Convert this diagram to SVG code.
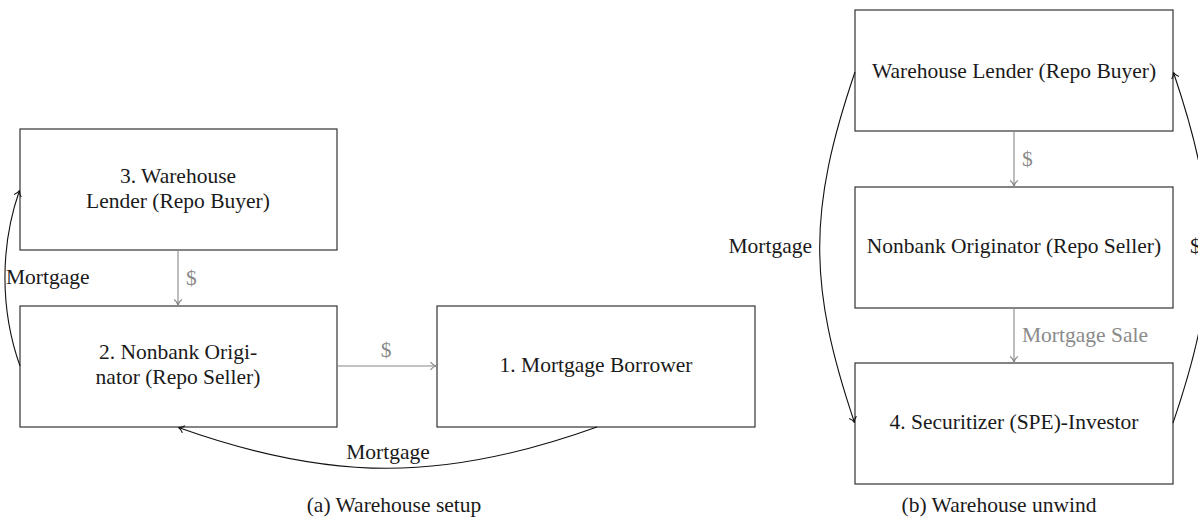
<svg xmlns="http://www.w3.org/2000/svg" width="1198" height="522" viewBox="0 0 1198 522" font-family="'Liberation Serif', 'DejaVu Serif', serif">
<style>
  text { font-family: "Liberation Serif", "DejaVu Serif", serif; font-size: 21.5px; fill: #1a1a1a; }
  .c { text-anchor: middle; }
  .g { fill: #8a8a8a; }
  .box { fill: #ffffff; stroke: #333333; stroke-width: 1.2; }
  .k { fill: none; stroke: #111111; stroke-width: 1.1; }
  .gr { fill: none; stroke: #888888; stroke-width: 1.1; }
</style>
<defs>
  <marker id="ak" markerUnits="userSpaceOnUse" markerWidth="12" markerHeight="12" viewBox="-8 -6 10 12" refX="0" refY="0" orient="auto">
    <path d="M-5.5,-3.8 C-3.5,-1.2 -1.2,-0.3 0,0 C-1.2,0.3 -3.5,1.2 -5.5,3.8" fill="none" stroke="#111111" stroke-width="1.1"/>
  </marker>
  <marker id="ag" markerUnits="userSpaceOnUse" markerWidth="12" markerHeight="12" viewBox="-8 -6 10 12" refX="0" refY="0" orient="auto">
    <path d="M-5.5,-3.8 C-3.5,-1.2 -1.2,-0.3 0,0 C-1.2,0.3 -3.5,1.2 -5.5,3.8" fill="none" stroke="#888888" stroke-width="1.1"/>
  </marker>
</defs>

<g id="n3">
  <rect class="box" x="20" y="129" width="317" height="121"/>
  <text class="c" x="178" y="183">3. Warehouse</text>
  <text class="c" x="178" y="208">Lender (Repo Buyer)</text>
</g>
<g id="n2">
  <rect class="box" x="20" y="306" width="317" height="121"/>
  <text class="c" x="178" y="359">2. Nonbank Origi-</text>
  <text class="c" x="178" y="384">nator (Repo Seller)</text>
</g>
<g id="n1">
  <rect class="box" x="437" y="306" width="318" height="121"/>
  <text class="c" x="596" y="372">1. Mortgage Borrower</text>
</g>

<g id="r1">
  <rect class="box" x="855" y="10" width="318" height="121"/>
  <text class="c" x="1014" y="78">Warehouse Lender (Repo Buyer)</text>
</g>
<g id="r2">
  <rect class="box" x="855" y="187" width="318" height="121"/>
  <text class="c" x="1014" y="253">Nonbank Originator (Repo Seller)</text>
</g>
<g id="r4">
  <rect class="box" x="855" y="363" width="318" height="121"/>
  <text class="c" x="1014" y="429">4. Securitizer (SPE)-Investor</text>
</g>

<g id="connectors">
  <path class="gr" d="M178,250 L178,305" marker-end="url(#ag)"/>
  <text class="g" x="186" y="285">$</text>
  <path class="gr" d="M337,366 L436,366" marker-end="url(#ag)"/>
  <text class="g c" x="386" y="357">$</text>
  <path class="k" d="M597,427 C444,482 331,482 178.5,427.5" marker-end="url(#ak)"/>
  <text class="c" x="388" y="459">Mortgage</text>
  <path class="k" d="M20,366 C0,310 0,246 19.5,190.5" marker-end="url(#ak)"/>
  <text x="6" y="284">Mortgage</text>

  <path class="gr" d="M1014,131 L1014,186" marker-end="url(#ag)"/>
  <text class="g" x="1022" y="166">$</text>
  <path class="gr" d="M1014,308 L1014,362" marker-end="url(#ag)"/>
  <text class="g" x="1022" y="342">Mortgage Sale</text>
  <path class="k" d="M855,72 C808,210 808,285 854.5,422.5" marker-end="url(#ak)"/>
  <text x="812" y="253" text-anchor="end">Mortgage</text>
  <path class="k" d="M1173,423 C1220,285 1220,210 1173.5,72.5" marker-end="url(#ak)"/>
  <text x="1190" y="253">$</text>
</g>

<text class="c" x="394" y="512">(a) Warehouse setup</text>
<text class="c" x="999" y="512">(b) Warehouse unwind</text>
</svg>
